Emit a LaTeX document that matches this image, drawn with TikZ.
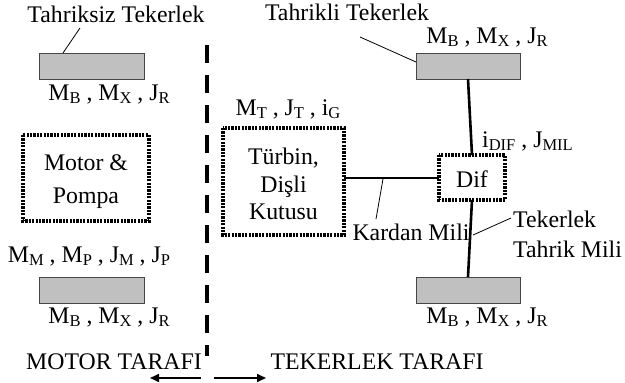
\documentclass[tikz,border=0pt]{standalone}
\usepackage{fontspec}
\setmainfont{Liberation Serif}
\usetikzlibrary{arrows.meta}
\newcommand{\sbx}[1]{\raisebox{-0.3ex}{\fontsize{16.5}{16.5}\selectfont #1}}
\tikzset{
  lbl/.style={inner sep=0pt, anchor=base, font=\fontsize{23.8}{28}\selectfont},
  wheel/.style={draw={rgb,255:red,70;green,70;blue,70}, line width=0.9pt, fill={rgb,255:red,192;green,192;blue,192}},
  dotbox/.style={draw, line width=3.2pt, dash pattern=on 2.2pt off 1.2pt},
  shaft/.style={line width=2.6pt},
  leader/.style={line width=0.8pt},
  sidearrow/.style={line width=1.6pt, -{Triangle[length=9pt,width=8pt]}},
}
\begin{document}
\begin{tikzpicture}[x=1pt,y=-1pt]
\useasboundingbox (0,0) rectangle (625,383);
% wheels
\draw[wheel] (39,53) rectangle (144,79) node[midway] (w1) {};
\draw[wheel] (39,277) rectangle (144,303) node[midway] (w2) {};
\draw[wheel] (416,53) rectangle (520,79) node[midway] (w3) {};
\draw[wheel] (416,277) rectangle (520,303) node[midway] (w4) {};
\coordinate (w1top) at (63,53);
\coordinate (w3left) at (416,62);
% texts
\node[lbl] (t1) at (116,22) {Tahriksiz Tekerlek};
\node[lbl] (t2) at (347,20) {Tahrikli Tekerlek};
\node[lbl] (l1) at (109,100) {M\sbx{B} , M\sbx{X} , J\sbx{R}};
\node[lbl] (l2) at (89,262) {M\sbx{M} , M\sbx{P} , J\sbx{M} , J\sbx{P}};
\node[lbl] (l3) at (109,323) {M\sbx{B} , M\sbx{X} , J\sbx{R}};
\node[lbl] (l4) at (288,115) {M\sbx{T} , J\sbx{T} , i\sbx{G}};
\node[lbl] (l5) at (487,43) {M\sbx{B} , M\sbx{X} , J\sbx{R}};
\node[lbl, anchor=base west] (l6) at (482,147) {i\sbx{DIF} , J\sbx{MIL}};
\node[lbl] (l7) at (487,323) {M\sbx{B} , M\sbx{X} , J\sbx{R}};
\node[lbl] (mt) at (114,369) {MOTOR TARAFI};
\node[lbl] (tt) at (377,369) {TEKERLEK TARAFI};
\node[lbl] (km) at (411,240) {Kardan Mili};
\node[lbl, anchor=base west] (tk1) at (513,227) {Tekerlek};
\node[lbl, anchor=base west] (tk2) at (513,257) {Tahrik Mili};
% boxes
\draw[dotbox] (23,135) rectangle (149,221);
\node[lbl] (mp1) at (86,170) {Motor \&};
\node[lbl] (mp2) at (86,203) {Pompa};
\draw[dotbox] (223,128) rectangle (344,235);
\coordinate (tbr) at (344,178);
\node[lbl] (tb1) at (283.5,164) {Türbin,};
\node[lbl] (tb2) at (283.5,192) {Dişli};
\node[lbl] (tb3) at (283.5,219) {Kutusu};
\draw[dotbox] (439,155) rectangle (505,200);
\node[lbl] (dif) at (472,187) {Dif};
\coordinate (difl) at (439,178);
\coordinate (dift) at (472,155);
\coordinate (difb) at (472,200);
% divider
\draw[line width=4pt, dash pattern=on 18pt off 12pt] (207,45) -- (207,356);
% shafts
\draw[shaft] (w3.center |- 0,79) -- (dift);
\draw[shaft] (difb) -- (w4.center |- 0,277);
\draw[shaft] (tbr) -- (difl);
% leaders
\draw[leader] (w1top) -- (80,28);
\draw[leader] (w3left) -- (360,37);
\draw[leader] (383,179) -- (376,219);
\draw[leader] (473,235) -- (511,218);
% arrows
\draw[sidearrow] (201,378) -- (150,378);
\draw[sidearrow] (214,378) -- (266,378);
\end{tikzpicture}
\end{document}
